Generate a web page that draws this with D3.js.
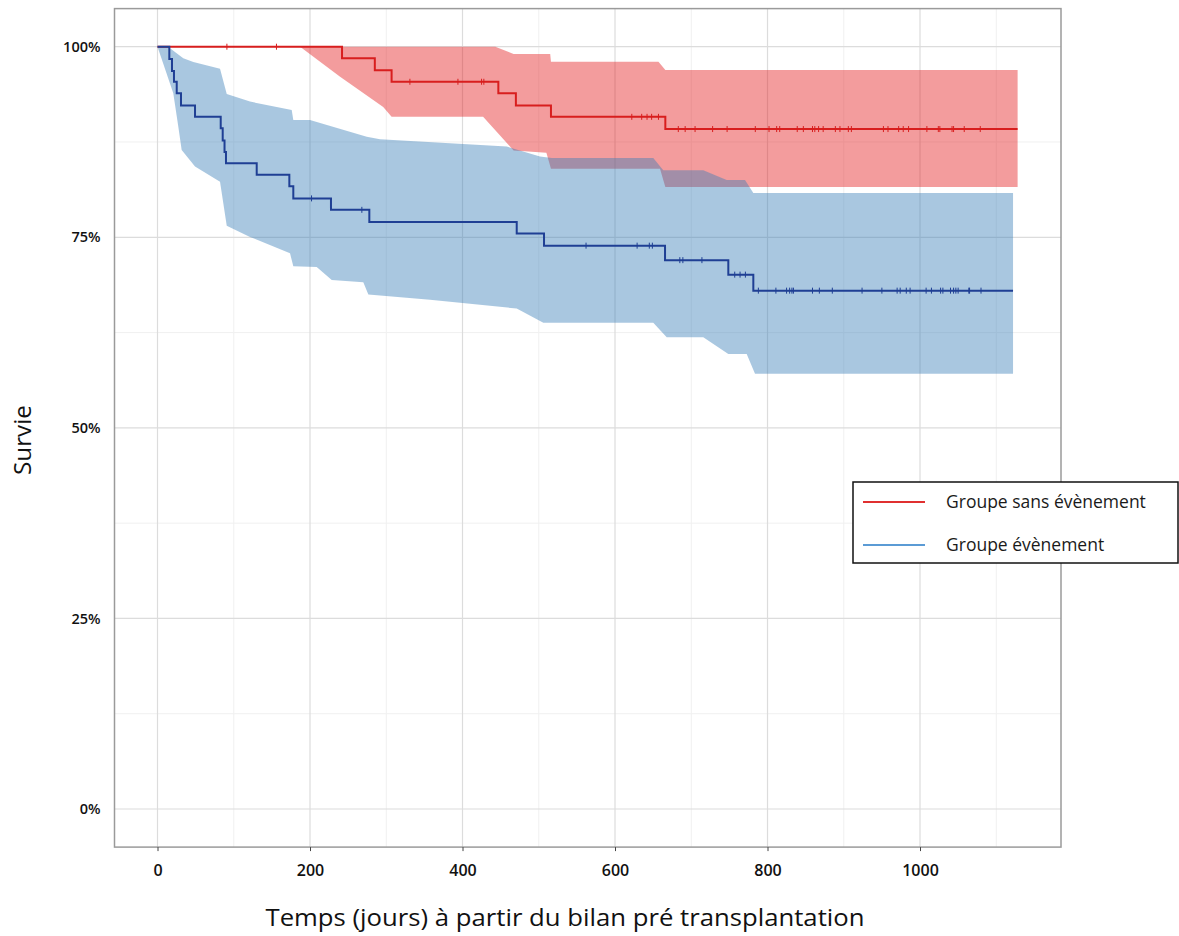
<!DOCTYPE html>
<html><head><meta charset="utf-8">
<script src="https://cdn.jsdelivr.net/npm/d3@7"></script>
<style>body{margin:0;background:#fff}svg{display:block}</style>
</head><body><svg id="c" width="1179" height="936"></svg>
<script>
// ---- data ----
const groups = ["Groupe sans évènement", "Groupe évènement"];
const xTicks = [0, 200, 400, 600, 800, 1000];
const yTicks = [0, 25, 50, 75, 100];
const yTickLabels = ["0%", "25%", "50%", "75%", "100%"];

// Kaplan-Meier steps (time in days, survival in %)
const redTime = [0, 242, 285, 307, 447, 470, 516, 666];
const redSurv = [100, 98.5, 96.9, 95.4, 93.9, 92.3, 90.8, 89.2];
const redEnd = 1128;
const blueTime = [0, 15.5, 19, 21.6, 25.2, 30.8, 49.2, 82.9, 85.5, 87.9, 89.8, 130.1, 172.9, 178.1, 227.5, 277.8, 471.1, 506.9, 665.6, 748.6, 781.4];
const blueSurv = [100, 98.4, 96.8, 95.4, 93.9, 92.3, 90.8, 89.3, 87.7, 86.2, 84.7, 83.2, 81.7, 80.1, 78.6, 77.0, 75.5, 73.9, 72.0, 70.1, 68.0];
const blueEnd = 1122;

// confidence bands
const redUpperT = [0, 443, 467, 515, 516, 657, 666, 1128];
const redUpperS = [100, 100, 99.04, 99.04, 98.03, 98.03, 96.93, 96.93];
const redLowerT = [0, 187, 239, 296, 307, 427, 467, 510, 516, 659, 666, 1128];
const redLowerS = [100, 100, 96.1, 92.1, 90.8, 90.8, 86.4, 86.1, 84.0, 84.0, 81.6, 81.6];
const blueUpperT = [0, 13.8, 33.8, 47, 82, 90.8, 121.3, 176, 178.1, 200, 274.4, 291.8, 458, 501.6, 517, 650.2, 663.3, 715.8, 746.5, 770.5, 781.4, 1122];
const blueUpperS = [100, 100, 98.5, 98.0, 97.1, 93.8, 92.8, 91.7, 90.4, 90.4, 88.2, 87.85, 86.9, 85.6, 85.4, 85.4, 83.8, 83.8, 82.5, 82.5, 80.8, 80.8];
const blueLowerT = [0, 20.7, 27.3, 31.7, 49.2, 82, 90.8, 121.3, 173.8, 178.1, 208.8, 228.5, 269.9, 276.5, 357.4, 471.1, 506, 650.2, 667.8, 715.8, 748.6, 772.7, 783.6, 1122];
const blueLowerS = [100, 93.9, 89.5, 86.45, 84.3, 82.3, 76.5, 75.05, 72.9, 71.2, 71.1, 69.4, 69.1, 67.5, 66.8, 65.65, 63.8, 63.8, 61.9, 61.9, 59.7, 59.7, 57.1, 57.1];

// censoring times
const redCensor = [91, 156, 331, 394, 425, 428, 622, 635, 642, 648, 657, 683, 692, 705, 728, 747, 784, 802, 812, 816, 839, 847, 859, 862, 867, 873, 889, 895, 906, 910, 952, 958, 972, 978, 985, 1009, 1024, 1026, 1042, 1044, 1058, 1079];
const blueCensor = [202, 268, 562, 629, 645, 649, 685, 689, 714, 757, 764, 771, 788, 811, 825, 829, 832, 834, 859, 868, 885, 924, 950, 970, 974, 982, 987, 1008, 1015, 1027, 1030, 1040, 1044, 1047, 1050, 1064, 1065, 1080];

// ---- layout ----
const svg = d3.select("#c");
const P = {left: 114.5, right: 1061, top: 8.6, bottom: 847.1};
const x = d3.scaleLinear().domain([-56.4, 1184.9]).range([P.left, P.right]);
const y = d3.scaleLinear().domain([-5, 105]).range([P.bottom, P.top]);

const font = "'Open Sans', 'Noto Sans', sans-serif";

// panel
svg.append("rect").attr("x", P.left).attr("y", P.top).attr("width", P.right - P.left).attr("height", P.bottom - P.top).attr("fill", "#fff");

// grid
const g = svg.append("g");
const minorX = d3.range(100, 1200, 200);
const minorY = [12.5, 37.5, 62.5, 87.5];
g.selectAll(".mx").data(minorX).join("line").attr("x1", d => x(d)).attr("x2", d => x(d)).attr("y1", P.top).attr("y2", P.bottom).attr("stroke", "#f0f0f0").attr("stroke-width", 1);
g.selectAll(".my").data(minorY).join("line").attr("y1", d => y(d)).attr("y2", d => y(d)).attr("x1", P.left).attr("x2", P.right).attr("stroke", "#f0f0f0").attr("stroke-width", 1);
g.selectAll(".Mx").data(xTicks).join("line").attr("x1", d => x(d)).attr("x2", d => x(d)).attr("y1", P.top).attr("y2", P.bottom).attr("stroke", "#dcdcdc").attr("stroke-width", 1.2);
g.selectAll(".My").data(yTicks).join("line").attr("y1", d => y(d)).attr("y2", d => y(d)).attr("x1", P.left).attr("x2", P.right).attr("stroke", "#dcdcdc").attr("stroke-width", 1.2);

// bands
function band(uT, uS, lT, lS) {
  const pts = uT.map((t, i) => [t, uS[i]]).concat(lT.map((t, i) => [t, lS[i]]).reverse());
  return d3.line().x(d => x(d[0])).y(d => y(d[1]))(pts) + "Z";
}
svg.append("path").attr("d", band(redUpperT, redUpperS, redLowerT, redLowerS)).attr("fill", "rgb(228,26,28)").attr("fill-opacity", 0.43);
svg.append("path").attr("d", band(blueUpperT, blueUpperS, blueLowerT, blueLowerS)).attr("fill", "rgb(55,126,184)").attr("fill-opacity", 0.43);

// step curves
function stepPts(T, S, end) {
  const pts = T.map((t, i) => [t, S[i]]);
  pts.push([end, S[S.length - 1]]);
  return pts;
}
const stepLine = d3.line().x(d => x(d[0])).y(d => y(d[1])).curve(d3.curveStepAfter);
const curves = [
  {T: redTime, S: redSurv, end: redEnd, cens: redCensor, col: "#d81e1e"},
  {T: blueTime, S: blueSurv, end: blueEnd, cens: blueCensor, col: "#1f3f94"}
];
curves.forEach(c => {
  svg.append("path").attr("d", stepLine(stepPts(c.T, c.S, c.end))).attr("fill", "none").attr("stroke", c.col).attr("stroke-width", 2);
  const survAt = t => c.S[d3.bisectRight(c.T, t) - 1];
  svg.append("g").selectAll("line").data(c.cens).join("line")
    .attr("x1", d => x(d)).attr("x2", d => x(d))
    .attr("y1", d => y(survAt(d)) - 3).attr("y2", d => y(survAt(d)) + 3)
    .attr("stroke", c.col).attr("stroke-width", 1);
});

// panel border
svg.append("rect").attr("x", P.left).attr("y", P.top).attr("width", P.right - P.left).attr("height", P.bottom - P.top).attr("fill", "none").attr("stroke", "#9a9a9a").attr("stroke-width", 1.5);

// axes
const xAxis = d3.axisBottom(x).tickValues(xTicks).tickSize(4).tickPadding(14).tickFormat(d3.format("d"));
const ax = svg.append("g").attr("transform", `translate(0,${P.bottom})`).call(xAxis);
ax.select(".domain").remove();
ax.selectAll(".tick line").attr("stroke", "#444");
ax.selectAll("text").attr("font-family", font).attr("font-size", 16).attr("font-weight", 600).attr("fill", "#111");

const yAxis = d3.axisLeft(y).tickValues(yTicks).tickSize(0).tickPadding(14).tickFormat((d, i) => yTickLabels[i]);
const ay = svg.append("g").attr("transform", `translate(${P.left},0)`).call(yAxis);
ay.select(".domain").remove();
ay.selectAll("text").attr("font-family", font).attr("font-size", 14.5).attr("font-weight", 600).attr("fill", "#111");

// titles
svg.append("text").attr("x", 565).attr("y", 926).attr("text-anchor", "middle").attr("font-family", font).attr("font-size", 24).attr("fill", "#111")
  .attr("textLength", 599).attr("lengthAdjust", "spacingAndGlyphs").text("Temps (jours) à partir du bilan pré transplantation");
svg.append("text").attr("transform", "translate(31,440) rotate(-90)").attr("text-anchor", "middle").attr("font-family", font).attr("font-size", 23).attr("fill", "#111")
  .attr("textLength", 70).attr("lengthAdjust", "spacingAndGlyphs").text("Survie");

// legend
const lg = svg.append("g");
lg.append("rect").attr("x", 853).attr("y", 482).attr("width", 325).attr("height", 81).attr("fill", "#fff").attr("stroke", "#111").attr("stroke-width", 1.5);
const legCols = ["#e03030", "#5b9bd5"];
groups.forEach((name, i) => {
  const yy = 502 + i * 43;
  lg.append("line").attr("x1", 863).attr("x2", 925).attr("y1", yy).attr("y2", yy).attr("stroke", legCols[i]).attr("stroke-width", 2);
  lg.append("text").attr("x", 946).attr("y", yy + 6).attr("font-family", font).attr("font-size", 17.5).attr("fill", "#1a1a1a").text(name);
});
</script></body></html>
